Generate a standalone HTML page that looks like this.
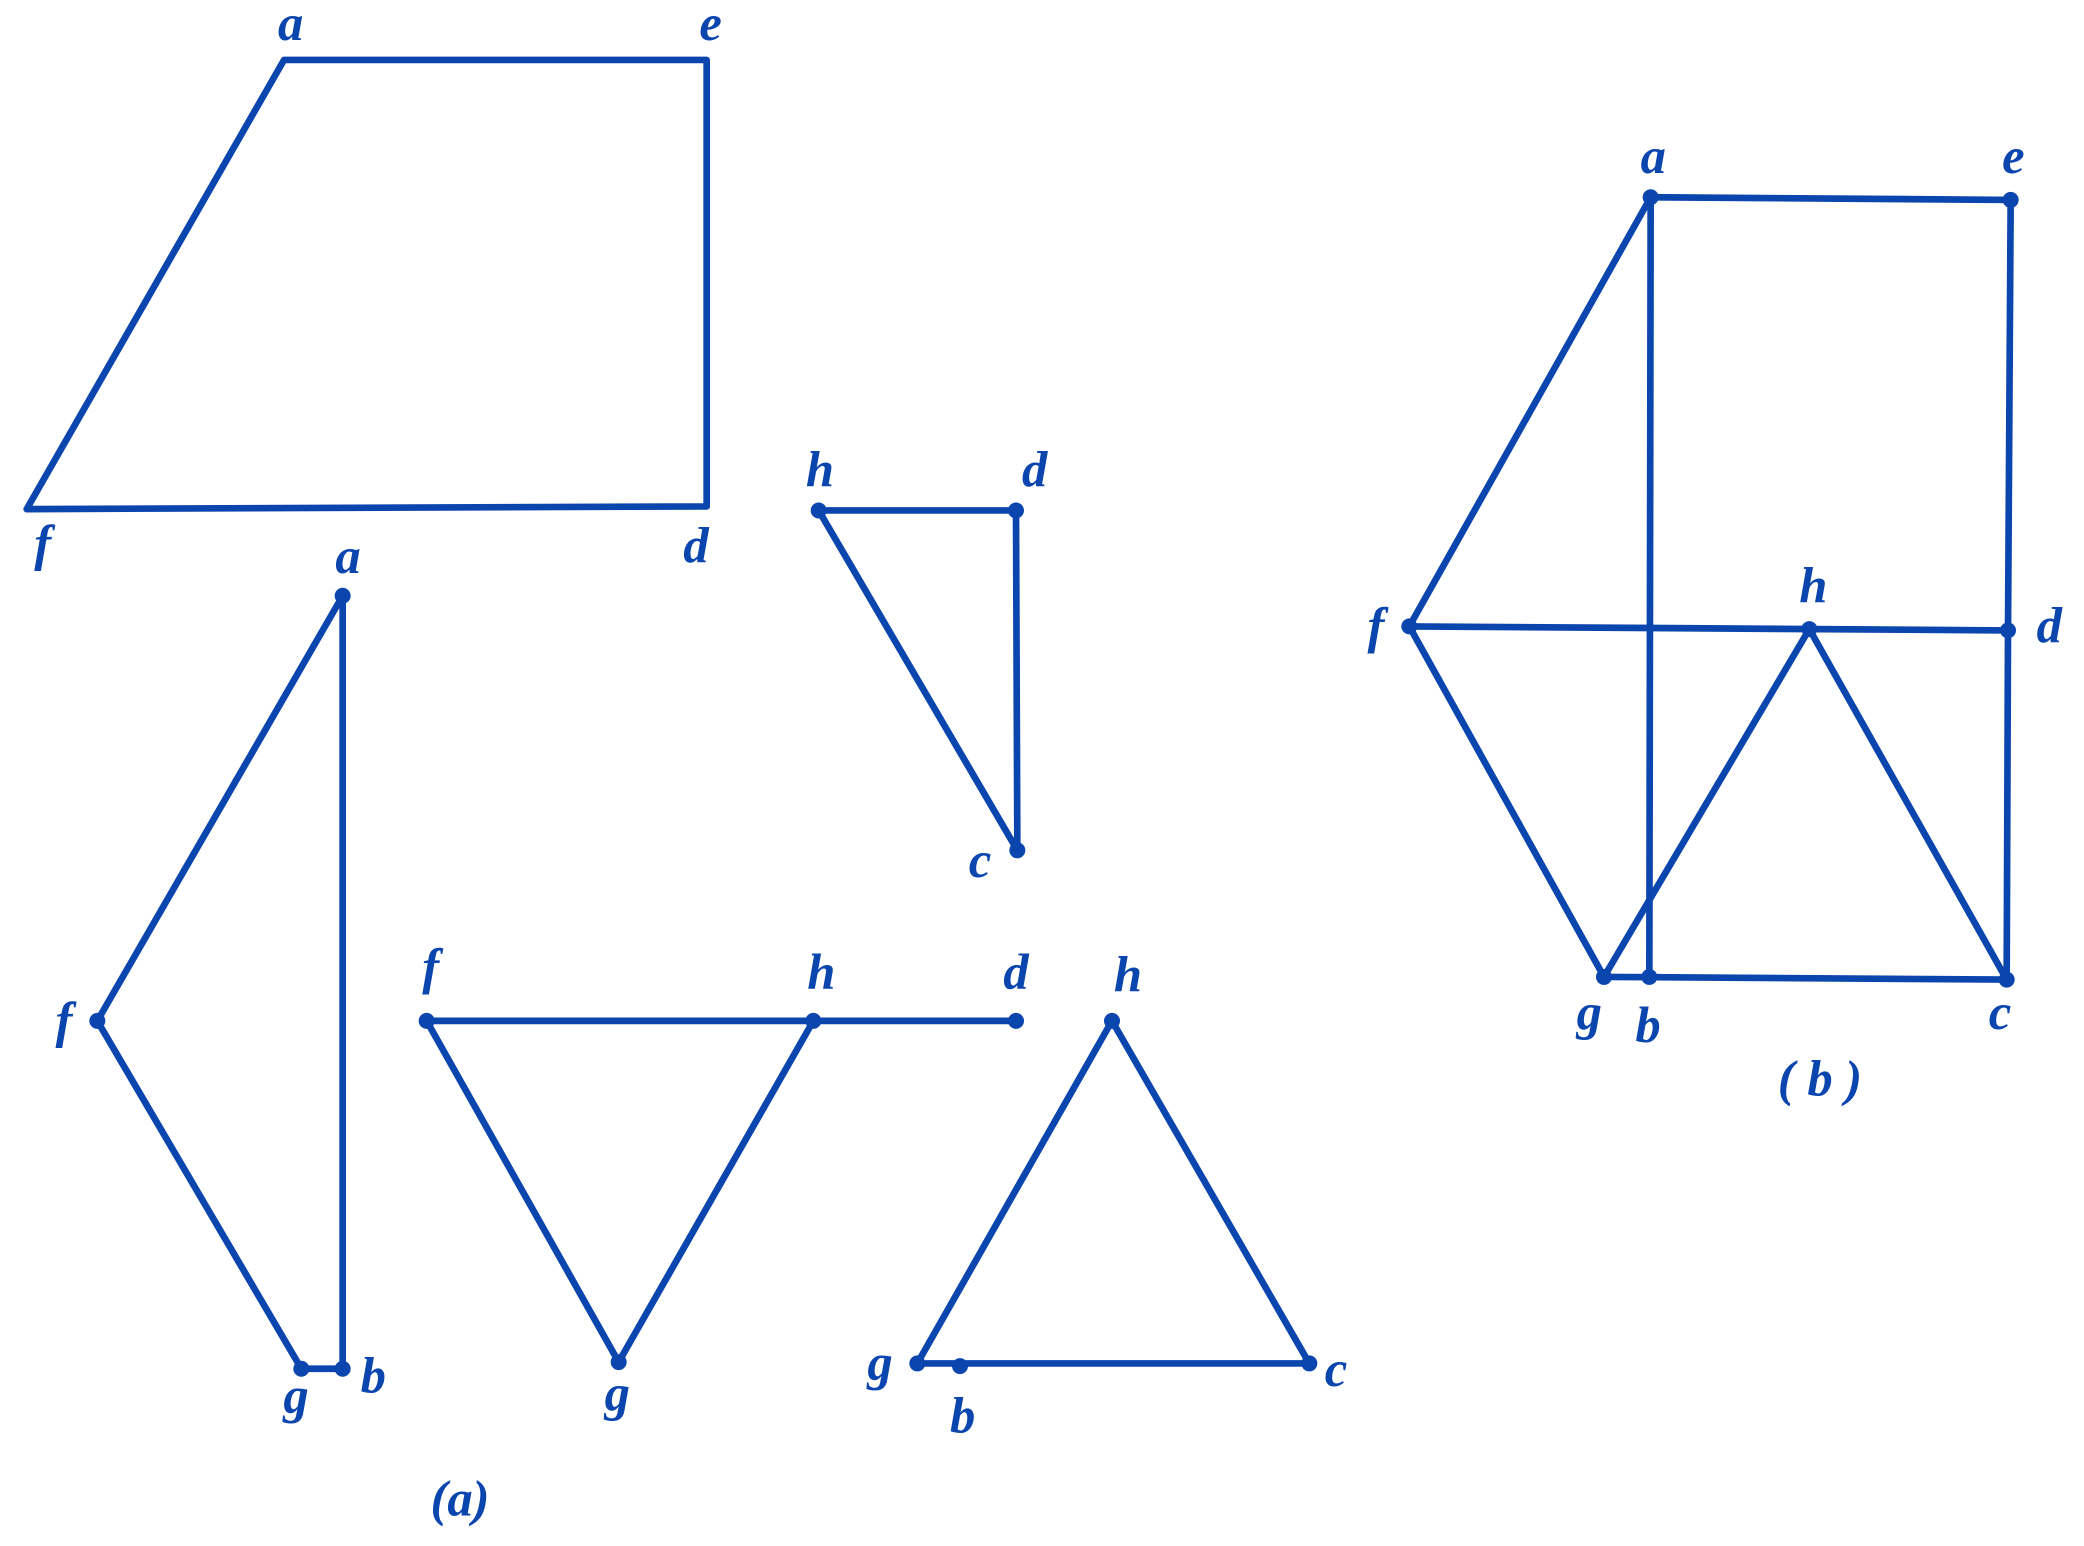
<!DOCTYPE html>
<html><head><meta charset="utf-8"><style>
html,body{margin:0;padding:0;background:#fff;}
svg{display:block;}
text{font-family:"Liberation Serif",serif;font-style:italic;font-weight:bold;font-size:38px;fill:#0b45ae;text-anchor:middle;}
</style></head><body>
<svg width="2084" height="1546" viewBox="0 0 1563 1160" preserveAspectRatio="none">
<g stroke="#0b45ae" stroke-width="5" fill="none" stroke-linejoin="round" stroke-linecap="round">
<polygon points="213,45 530,45 530,380 20,382"/>
<polygon points="614,383 762,383 763,638"/>
<polygon points="257,447 73,766 226,1027 257,1027"/>
<line x1="320" y1="766" x2="762" y2="766"/>
<polyline points="320,766 464,1022 610,766"/>
<polygon points="834,766 688,1023 982,1023"/>
<polyline points="1238,148 1508,150 1506,473 1505,735 1203,733"/>
<line x1="1238" y1="148" x2="1237" y2="733"/>
<line x1="1238" y1="148" x2="1057" y2="470"/>
<line x1="1057" y1="470" x2="1506" y2="473"/>
<line x1="1057" y1="470" x2="1203" y2="733"/>
<polyline points="1203,733 1357,472 1505,735"/>
</g>
<g fill="#0b45ae">
<circle cx="614" cy="383" r="6"/><circle cx="762" cy="383" r="6"/><circle cx="763" cy="638" r="6"/>
<circle cx="257" cy="447" r="6"/><circle cx="73" cy="766" r="6"/><circle cx="226" cy="1027" r="6"/><circle cx="257" cy="1027" r="6"/>
<circle cx="320" cy="766" r="6"/><circle cx="610" cy="766" r="6"/><circle cx="762" cy="766" r="6"/><circle cx="464" cy="1022" r="6"/>
<circle cx="834" cy="766" r="6"/><circle cx="688" cy="1023" r="6"/><circle cx="982" cy="1023" r="6"/><circle cx="720" cy="1025" r="6"/>
<circle cx="1238" cy="148" r="6"/><circle cx="1508" cy="150" r="6"/><circle cx="1057" cy="470" r="6"/><circle cx="1357" cy="472" r="6"/>
<circle cx="1506" cy="473" r="6"/><circle cx="1203" cy="733" r="6"/><circle cx="1237" cy="733" r="6"/><circle cx="1505" cy="735" r="6"/>
</g>
<text x="218" y="30">a</text><text x="533" y="30">e</text><text x="32" y="420">f</text><text x="522" y="422">d</text>
<text x="615" y="365">h</text><text x="776" y="365">d</text><text x="735" y="658">c</text>
<text x="261" y="430">a</text><text x="48" y="778">f</text><text x="222" y="1060">g</text><text x="280" y="1045">b</text>
<text x="323" y="738">f</text><text x="616" y="742">h</text><text x="762" y="742">d</text><text x="463" y="1058">g</text>
<text x="846" y="744">h</text><text x="660" y="1035">g</text><text x="1002" y="1040">c</text><text x="722" y="1075">b</text>
<text x="345" y="1137">(a)</text>
<text x="1240" y="130">a</text><text x="1510" y="130">e</text><text x="1032" y="482">f</text><text x="1360" y="452">h</text>
<text x="1537" y="482">d</text><text x="1192" y="772">g</text><text x="1236" y="782">b</text><text x="1500" y="772">c</text>
<text x="1365" y="822">( b )</text>
</svg>
</body></html>
